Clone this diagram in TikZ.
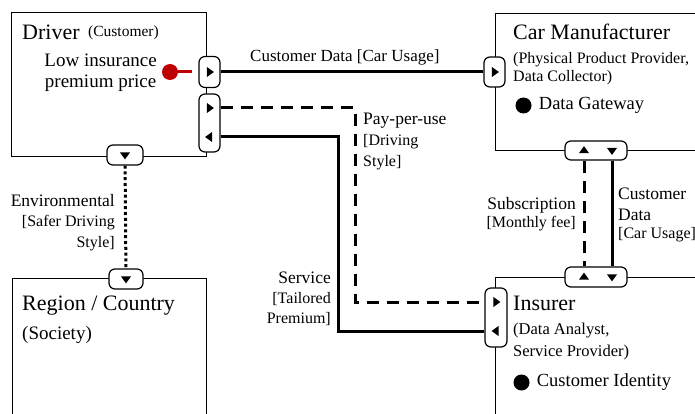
\documentclass[tikz,border=0pt]{standalone}
\usepackage{fontspec}
\setmainfont{Liberation Serif}
\usetikzlibrary{positioning}
\usetikzlibrary{shapes.geometric}
\definecolor{goalred}{RGB}{192,0,0}
\newcommand\flowsub[1]{{\fontsize{16}{20}\selectfont #1}}

\begin{document}
\begin{tikzpicture}[
  x=1pt, y=-1pt,
  actor/.style={draw,line width=1.2pt,inner sep=0pt,anchor=north west},
  port/.style={draw,line width=1.2pt,rounded corners=6pt,fill=white,inner sep=0pt},
  tri/.style={isosceles triangle,isosceles triangle stretches,fill,inner sep=0pt,
    minimum width=10pt,minimum height=7pt},
  flow/.style={line width=3pt},
  payflow/.style={line width=3pt,dash pattern=on 12pt off 8pt},
  envflow/.style={line width=3pt,dash pattern=on 3pt off 2.8pt},
  title/.style={inner sep=0pt,anchor=base west,font=\fontsize{22}{26}\selectfont},
  role/.style={inner sep=0pt,anchor=base west,align=left,font=\fontsize{16}{18}\selectfont},
  asset/.style={inner sep=0pt,font=\fontsize{18.5}{22}\selectfont},
  bullet/.style={circle,fill,inner sep=0pt,minimum size=16pt},
  flowlabel/.style={inner sep=0pt,font=\fontsize{17.5}{20.5}\selectfont}
]
\clip (0,0) rectangle (695,414);

% actors
\node[actor,minimum width=195pt,minimum height=144pt] (drv) at (11,12) {};
\node[actor,minimum width=220pt,minimum height=137pt] (car) at (495,13) {};
\node[actor,minimum width=220pt,minimum height=160pt] (ins) at (495,277) {};
\node[actor,minimum width=194pt,minimum height=160pt] (reg) at (12,278) {};

% multi-line nodes sit on the baseline of their last line
\node[title] (drvname) at (22,40) {Driver};
\node[role,font=\fontsize{15.5}{18}\selectfont] (drvrole) at (88,37) {(Customer)};
\node[inner sep=0pt,anchor=base east,align=center,font=\fontsize{19}{20.5}\selectfont] (drvgoal) at (157,87.5) {Low insurance\\premium price};
\node[bullet,fill=goalred] (goaldot) at (170,72) {};

\node[title] (carname) at (513,40) {Car Manufacturer};
\node[role] (carrole) at (513,82) {(Physical Product Provider,\\Data Collector)};
\node[bullet] (cardot) at (523.5,105.5) {};
\node[asset,right=7pt of cardot] (carasset) {Data Gateway};

\node[title] (insname) at (513,310) {Insurer};
\node[role,font=\fontsize{16.5}{22}\selectfont] (insrole) at (513,356) {(Data Analyst,\\Service Provider)};
\node[bullet] (insdot) at (521.5,382.5) {};
\node[asset,right=7pt of insdot] (insasset) {Customer Identity};

\node[title] (regname) at (22,310) {Region / Country};
\node[role,font=\fontsize{19}{22}\selectfont] (regrole) at (22,339) {(Society)};

% ports
\node[port,minimum width=21pt,minimum height=31pt] (drvdata) at (209.5,72) {};
\node[port,minimum width=21pt,minimum height=58pt] (drvpay) at (209.5,123) {};
\node[port,minimum width=36pt,minimum height=20pt] (drvenv) at (125,155) {};
\node[port,minimum width=34pt,minimum height=20pt] (regenv) at (126,279) {};
\node[port,minimum width=21pt,minimum height=30pt] (cardata) at (494.5,72) {};
\node[port,minimum width=62pt,minimum height=19pt] (carlink) at (596,150.5) {};
\node[port,minimum width=62pt,minimum height=20pt] (inslink) at (596,277) {};
\node[port,minimum width=22pt,minimum height=59pt] (inspay) at (496,317.5) {};

\node[tri] (drvdatatri) at (drvdata) {};
\node[tri] (drvpaytri) at (209.5,108) {};
\node[tri,shape border rotate=180] (drvsrvtri) at (209.5,137) {};
\node[tri,shape border rotate=270] (drvenvtri) at (drvenv) {};
\node[tri,shape border rotate=270] (regenvtri) at (regenv) {};
\node[tri] (cardatatri) at (cardata) {};
\node[tri,shape border rotate=90] (carsubtri) at (584,150.5) {};
\node[tri,shape border rotate=270] (carcdtri) at (612,150.5) {};
\node[tri,shape border rotate=90] (inssubtri) at (584,277) {};
\node[tri,shape border rotate=270] (inscdtri) at (612,277) {};
\node[tri] (inspaytri) at (496,302) {};
\node[tri,shape border rotate=180] (inssrvtri) at (496,331) {};

% flows
\coordinate (paycol) at (355,200);
\coordinate (srvcol) at (338,200);
\draw[flow] (drvdata) -- (cardata);
\draw[goalred,line width=3pt,shorten >=6pt] (goaldot) -- (drvdata);
\draw[payflow] (drvpay.east |- drvpaytri) -| (paycol) |- (inspay.west |- inspaytri);
\draw[flow] (drvpay.east |- drvsrvtri) -| (srvcol) |- (inspay.west |- inssrvtri);
\draw[payflow] (carsubtri |- carlink.south) -- (carsubtri |- inslink.north);
\draw[flow] (carcdtri |- carlink.south) -- (carcdtri |- inslink.north);
\draw[envflow] (drvenv) -- (regenv);

\node[flowlabel,anchor=base west,font=\fontsize{17}{20}\selectfont] (datalabel) at (250,62) {Customer Data [Car Usage]};
\node[flowlabel,anchor=base west,align=left,font=\fontsize{17.5}{21}\selectfont] (paylabel) at (363,167) {Pay-per-use\\\flowsub{[Driving}\\\flowsub{Style]}};
\node[flowlabel,anchor=base east,align=right] (envlabel) at (115,247) {Environmental\\\flowsub{[Safer Driving}\\\flowsub{Style]}};
\node[flowlabel,anchor=base east,align=right,font=\fontsize{17.5}{17.5}\selectfont] (sublabel) at (576,227) {Subscription\\\flowsub{[Monthly fee]}};
\node[flowlabel,anchor=base west,align=left,font=\fontsize{17.5}{21.5}\selectfont] (cdlabel) at (618,238) {Customer\\Data\\[-4pt]\flowsub{[Car Usage]}};
\node[flowlabel,anchor=base east,align=right,font=\fontsize{17.5}{20}\selectfont] (srvlabel) at (331,323) {Service\\\flowsub{[Tailored}\\\flowsub{Premium]}};
\end{tikzpicture}
\end{document}
